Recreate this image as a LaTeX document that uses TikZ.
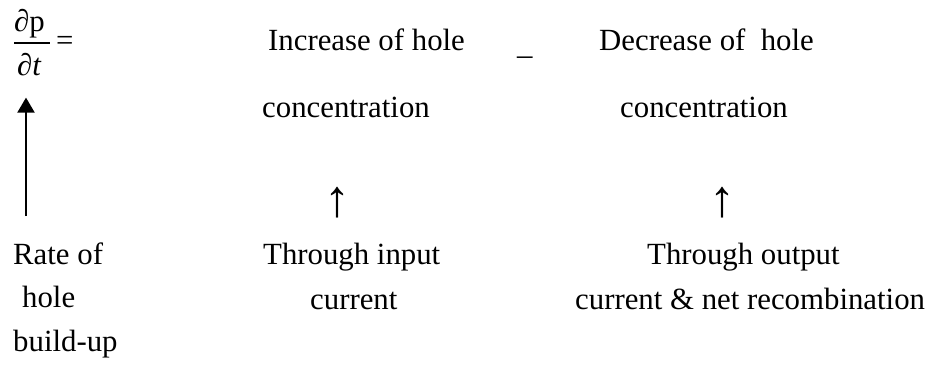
\documentclass[tikz,border=0pt]{standalone}
\usepackage{fontspec}
\setmainfont{Liberation Serif}
\usepackage{tikz}
\usetikzlibrary{arrows.meta,calc}

\begin{document}
\begin{tikzpicture}[x=1pt,y=-1pt,
   txt/.style={anchor=base west,inner sep=0pt,font=\fontsize{30.8}{37}\selectfont},
   uparr/.style={anchor=base,inner sep=0pt,font=\fontsize{52}{60}\selectfont},
   rise/.style={-{Triangle[length=15pt,width=17pt]},line width=2pt}]
  \useasboundingbox (0,0) rectangle (937,371);
  % rate of change on the left
  \node[txt] (num) at (14,32) {∂p};
  \node[txt] (den) at (17,76) {∂\textit{t}};
  \draw[line width=1.6pt] ([yshift=-4.3pt]num.south west) -- ([yshift=-4.3pt,xshift=5pt]num.south east);
  \node[txt] (eq) at (56,51) {=};
  \foreach \nm/\x/\y/\txt in
     {inc/268/51/{Increase of hole},
      minus/517/55/{\_},
      dec/599/51/{Decrease of\ \ hole},
      concA/262/118/concentration,
      concB/620/118/concentration,
      rate/13/265/{Rate of},
      holeB/22/308/hole,
      build/13/351/build-up,
      thrA/263/265/{Through input},
      curA/310/309/current,
      thrB/647/265/{Through output},
      curB/575/309/{current \& net recombination}}{
     \node[txt] (\nm) at (\x,\y) {\txt};}
  \foreach \nm/\x in {upA/337,upB/722}{
     \node[uparr] (\nm) at (\x,217) {↑};}
  \draw[rise,shorten >=21pt] ([xshift=13pt,yshift=27pt]rate.north west) -- ([xshift=13pt]rate.north west |- den.south);
\end{tikzpicture}
\end{document}
